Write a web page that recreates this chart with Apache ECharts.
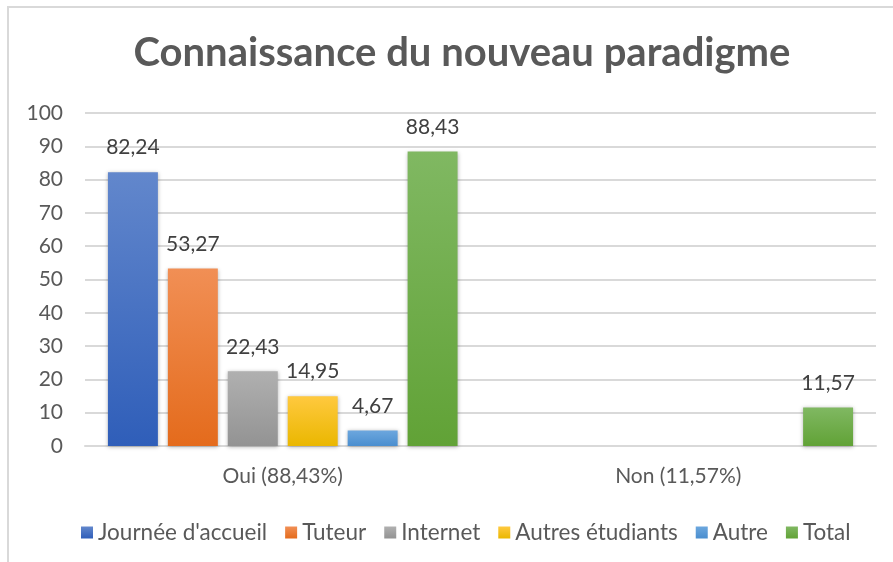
<!DOCTYPE html>
<html>
<head>
<meta charset="utf-8">
<script src="https://cdn.jsdelivr.net/npm/echarts@6/dist/echarts.min.js"></script>
<style>
  html, body { margin: 0; padding: 0; background: #fff; }
  #chart { width: 893px; height: 562px; }
</style>
</head>
<body>
<div id="chart"></div>
<script>
// data
const categories = ['Oui (88,43%)', 'Non (11,57%)'];
const seriesNames = ["Journée d'accueil", 'Tuteur', 'Internet', 'Autres étudiants', 'Autre', 'Total'];
const journee = [82.24, null];
const tuteur = [53.27, null];
const internet = [22.43, null];
const autresEtudiants = [14.95, null];
const autre = [4.67, null];
const total = [88.43, 11.57];
const yTicks = { min: 0, max: 100, interval: 10 };

const values = [journee, tuteur, internet, autresEtudiants, autre, total];
// top / bottom of each bar gradient
const colors = [
  ['#6287cc', '#2f5eb9'],
  ['#f18f55', '#e46b1c'],
  ['#b0b0b0', '#939393'],
  ['#ffc93f', '#eab700'],
  ['#6ca7de', '#4a8ecf'],
  ['#80b862', '#61a236'],
];

const font = 'Lato, "Open Sans", sans-serif';
const myChart = echarts.init(document.getElementById('chart'));

const series = seriesNames.map((name, i) => ({
  name: name,
  type: 'bar',
  data: values[i],
  barGap: '20%',
  barCategoryGap: '11.6%',
  itemStyle: {
    color: new echarts.graphic.LinearGradient(0, 0, 0, 1, [
      { offset: 0, color: colors[i][0] },
      { offset: 1, color: colors[i][1] },
    ]),
    shadowBlur: 4,
    shadowOffsetY: 1,
    shadowColor: 'rgba(0,0,0,0.3)',
  },
  label: {
    show: true,
    position: 'top',
    distance: 14,
    color: '#404040',
    fontFamily: font,
    fontSize: 21,
    formatter: (p) => String(p.value).replace('.', ','),
  },
}));

const option = {
  backgroundColor: '#fff',
  animation: false,
  color: colors.map((c) => c[1]),
  title: {
    text: 'Connaissance du nouveau paradigme',
    left: 457,
    top: 28,
    textAlign: 'center',
    textStyle: {
      color: '#595959',
      fontFamily: font,
      fontWeight: 'bold',
      fontSize: 40,
    },
  },
  graphic: [
    {
      type: 'rect',
      shape: { x: 8, y: 7, width: 1000, height: 1000 },
      style: { fill: 'none', stroke: '#d9d9d9', lineWidth: 2 },
      silent: true,
    },
  ],
  grid: {
    left: 85,
    right: 17,
    top: 113,
    bottom: 116,
  },
  legend: {
    top: 516,
    left: 76,
    itemWidth: 12,
    itemHeight: 12,
    itemGap: 18,
    icon: 'rect',
    textStyle: { color: '#595959', fontFamily: font, fontSize: 22.5 },
    data: seriesNames,
  },
  xAxis: {
    type: 'category',
    data: categories,
    axisLine: { lineStyle: { color: '#d9d9d9', width: 2 } },
    axisTick: { show: false },
    axisLabel: { color: '#595959', fontFamily: font, fontSize: 21, margin: 20 },
  },
  yAxis: {
    type: 'value',
    min: yTicks.min,
    max: yTicks.max,
    interval: yTicks.interval,
    axisLine: { show: false },
    axisTick: { show: false },
    axisLabel: { color: '#595959', fontFamily: font, fontSize: 21, margin: 22 },
    splitLine: { lineStyle: { color: '#d9d9d9', width: 2 } },
  },
  series: series,
};

myChart.setOption(option);
</script>
</body>
</html>
